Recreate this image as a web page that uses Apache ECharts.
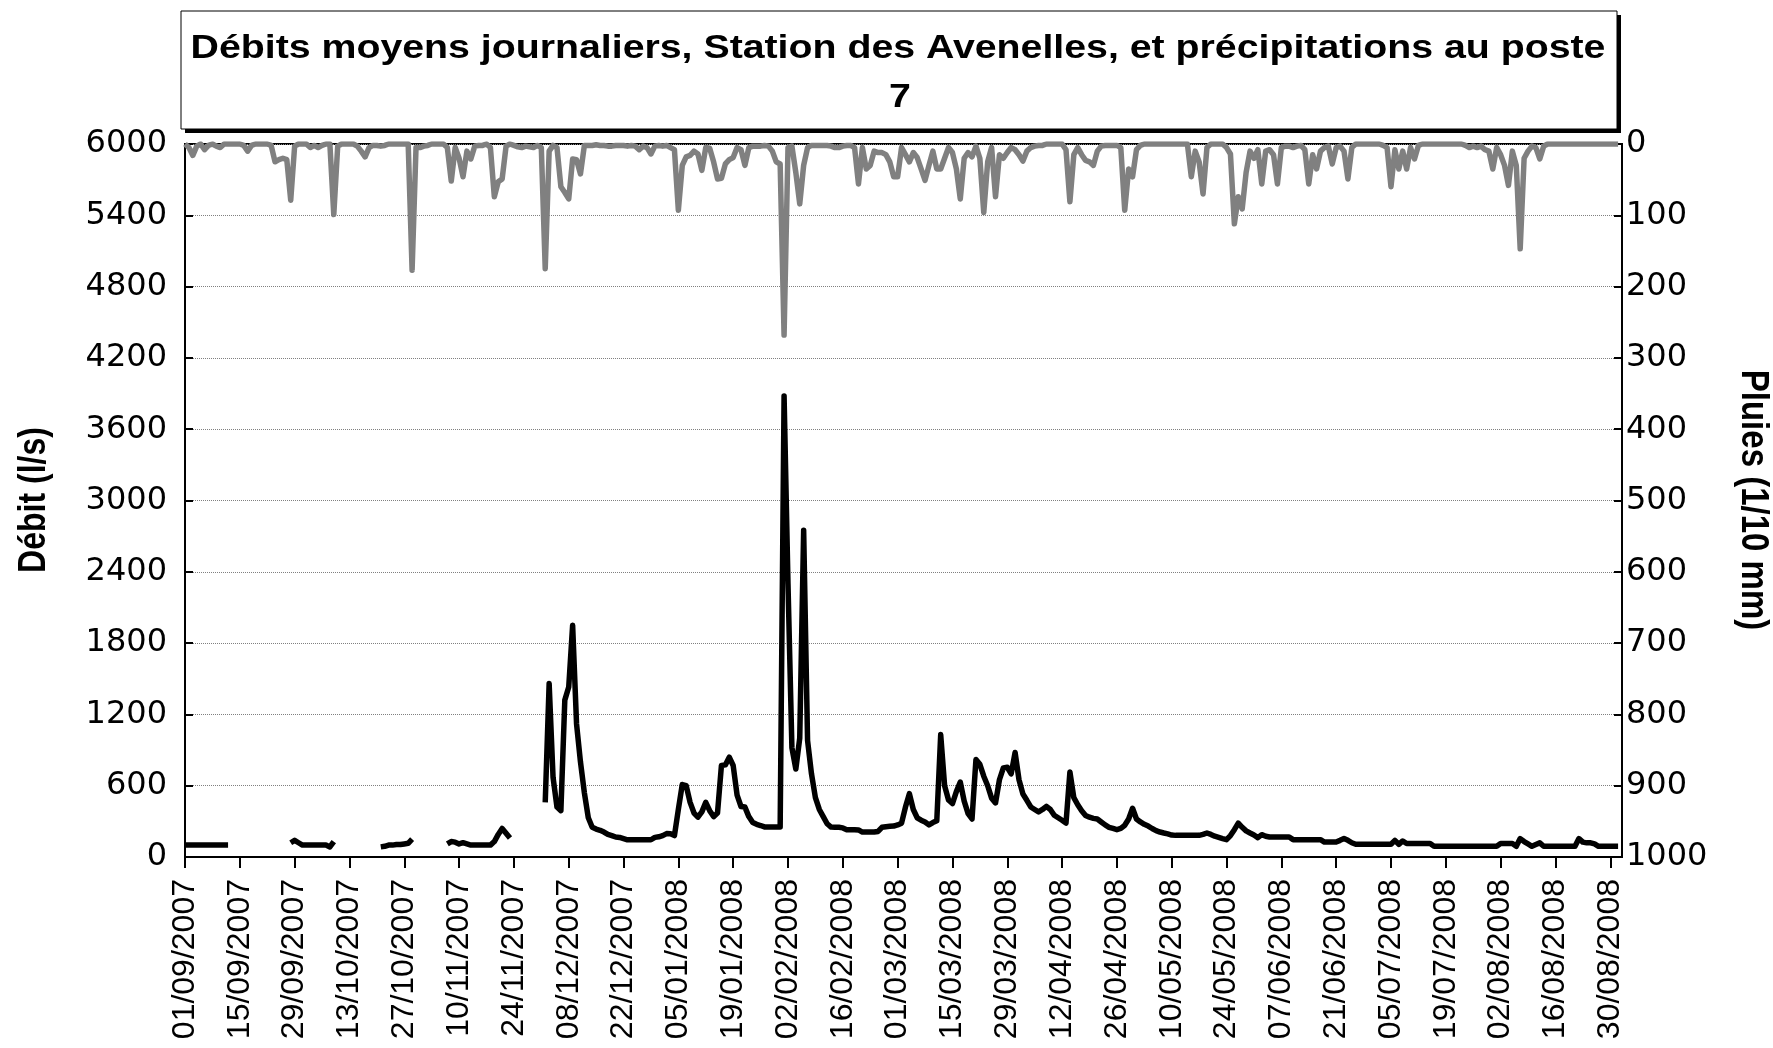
<!DOCTYPE html>
<html>
<head>
<meta charset="utf-8">
<title>Débits moyens journaliers - Avenelles</title>
<script src="https://cdn.jsdelivr.net/npm/echarts@6/dist/echarts.min.js"></script>
<style>
  html, body { margin: 0; padding: 0; background: #fff; }
  #main { width: 1773px; height: 1048px; }
</style>
</head>
<body>
<div id="main"></div>
<script>
// one category per day, from 01/09/2007
const startDate = Date.UTC(2007, 8, 1);
const dayCount = 368;

// tick labels, every 14 days
const tickLabels = [
    '01/09/2007', '15/09/2007', '29/09/2007', '13/10/2007', '27/10/2007', '10/11/2007',
    '24/11/2007', '08/12/2007', '22/12/2007', '05/01/2008', '19/01/2008', '02/02/2008',
    '16/02/2008', '01/03/2008', '15/03/2008', '29/03/2008', '12/04/2008', '26/04/2008',
    '10/05/2008', '24/05/2008', '07/06/2008', '21/06/2008', '05/07/2008', '19/07/2008',
    '02/08/2008', '16/08/2008', '30/08/2008'
];

// daily mean discharge (l/s), null = missing
const debit = [
    100, 100, 100, 100, 100, 100, 100, 100, 100, 100,
    100, 100, null, null, null, null, null, null, null, null,
    null, null, null, null, null, null, null, 120, 140, 120,
    100, 100, 100, 100, 100, 100, 100, 85, 130, null,
    null, null, null, null, null, null, null, null, null, null,
    85, 90, 100, 100, 105, 105, 110, 115, 150, null,
    null, null, null, null, null, null, null, 110, 130, 125,
    110, 120, 110, 100, 100, 100, 100, 100, 100, 130,
    190, 240, 200, 160, null, null, null, null, null, null,
    null, null, 460, 1460, 670, 420, 390, 1320, 1430, 1950,
    1120, 800, 540, 330, 250, 235, 225, 210, 190, 180,
    168, 165, 155, 145, 145, 145, 145, 145, 145, 145,
    165, 170, 180, 197, 195, 180, 400, 610, 600, 460,
    370, 335, 380, 460, 390, 340, 370, 770, 775, 840,
    770, 520, 425, 420, 340, 290, 275, 265, 253, 253,
    253, 253, 253, 3880, 2300, 920, 740, 1000, 2750, 980,
    700, 500, 400, 340, 280, 252, 250, 250, 245, 230,
    230, 230, 228, 210, 210, 210, 210, 215, 250, 255,
    258, 260, 270, 285, 420, 533, 400, 330, 310, 295,
    270, 290, 305, 1030, 600, 480, 450, 550, 630, 470,
    365, 320, 820, 780, 680, 600, 495, 455, 650, 750,
    755, 700, 880, 650, 530, 477, 421, 400, 380, 400,
    426, 400, 351, 330, 309, 285, 715, 500, 440, 390,
    350, 335, 325, 320, 295, 270, 250, 240, 230, 240,
    267, 320, 410, 320, 295, 275, 260, 240, 222, 210,
    202, 195, 185, 182, 182, 182, 182, 182, 182, 182,
    190, 202, 190, 175, 165, 155, 146, 180, 230, 285,
    250, 220, 202, 185, 163, 188, 175, 168, 168, 168,
    168, 168, 168, 146, 146, 146, 146, 146, 146, 146,
    146, 126, 126, 126, 126, 140, 155, 140, 120, 107,
    107, 107, 107, 107, 107, 107, 107, 107, 107, 140,
    107, 135, 113, 113, 113, 113, 113, 113, 113, 90,
    90, 90, 90, 90, 90, 90, 90, 90, 90, 90,
    90, 90, 90, 90, 90, 90, 113, 113, 113, 113,
    90, 155, 130, 110, 90, 105, 119, 90, 90, 90,
    90, 90, 90, 90, 90, 90, 155, 125, 119, 119,
    110, 90, 90, 90, 90, 90, 90, null
];

// daily rainfall (1/10 mm)
const pluie = [
    0, 5, 16, 3, 0, 8, 2, 0, 3, 5,
    0, 0, 0, 0, 0, 2, 10, 2, 0, 0,
    0, 0, 2, 25, 22, 20, 22, 79, 3, 0,
    0, 0, 5, 2, 5, 2, 0, 0, 99, 3,
    0, 0, 0, 0, 3, 10, 18, 5, 2, 2,
    3, 2, 0, 0, 0, 0, 0, 0, 177, 5,
    5, 3, 2, 0, 0, 0, 0, 5, 52, 5,
    20, 46, 10, 21, 3, 2, 2, 0, 5, 74,
    53, 49, 3, 0, 2, 4, 5, 3, 4, 5,
    2, 5, 175, 10, 2, 5, 60, 68, 77, 21,
    22, 42, 2, 2, 2, 1, 2, 2, 3, 3,
    2, 2, 2, 3, 2, 3, 8, 3, 5, 14,
    3, 2, 3, 2, 5, 8, 93, 30, 18, 16,
    10, 14, 37, 5, 6, 25, 49, 48, 28, 22,
    19, 5, 8, 30, 5, 3, 3, 3, 2, 3,
    10, 25, 28, 268, 5, 3, 40, 84, 30, 5,
    2, 2, 2, 2, 2, 3, 5, 5, 3, 2,
    2, 5, 56, 5, 35, 30, 10, 12, 12, 15,
    25, 46, 46, 5, 15, 25, 12, 19, 35, 51,
    30, 10, 35, 35, 20, 5, 12, 35, 77, 20,
    12, 18, 3, 20, 96, 25, 5, 74, 15, 20,
    12, 5, 8, 15, 24, 10, 5, 3, 2, 2,
    0, 0, 0, 0, 0, 8, 81, 15, 5, 15,
    23, 25, 30, 10, 3, 2, 2, 2, 2, 5,
    93, 35, 46, 8, 2, 0, 0, 0, 0, 0,
    0, 0, 0, 0, 0, 0, 0, 46, 10, 25,
    70, 5, 0, 0, 0, 0, 5, 14, 112, 74,
    91, 40, 10, 20, 8, 56, 10, 8, 15, 56,
    5, 3, 3, 5, 3, 2, 8, 56, 15, 35,
    10, 5, 3, 28, 5, 3, 10, 49, 5, 0,
    0, 0, 0, 0, 0, 0, 2, 5, 60, 8,
    35, 10, 35, 5, 21, 2, 0, 0, 0, 0,
    0, 0, 0, 0, 0, 0, 0, 2, 5, 3,
    5, 3, 8, 10, 35, 5, 15, 30, 58, 10,
    30, 147, 20, 10, 3, 5, 21, 3, 0, 0,
    0, 0, 0, 0, 0, 0, 0, 0, 0, 0,
    0, 0, 0, 0, 0, 0, 0, null
];

const pad = n => (n < 10 ? '0' : '') + n;
const days = [];
for (let i = 0; i < dayCount; i++) {
    const d = new Date(startDate + i * 86400000);
    days.push(pad(d.getUTCDate()) + '/' + pad(d.getUTCMonth() + 1) + '/' + d.getUTCFullYear());
}

const FONT = '"Liberation Sans", Arial, sans-serif';
const NUM_FONT = '"DejaVu Sans", "Liberation Sans", sans-serif';
// the original picture is a little stretched sideways
const STRETCH = 1.19;

const chart = echarts.init(document.getElementById('main'));

const option = {
    animation: false,
    backgroundColor: '#fff',
    textStyle: { fontFamily: FONT, color: '#000' },
    grid: {
        left: 185, right: 151, top: 144, bottom: 191,
        show: true, borderColor: '#000', borderWidth: 2
    },
    graphic: [
        // title box with its black drop shadow
        {
            type: 'rect', z: 10,
            shape: { x: 185, y: 15, width: 1436, height: 118 },
            style: { fill: '#000' }
        },
        {
            type: 'rect', z: 10,
            shape: { x: 181, y: 11, width: 1436, height: 118 },
            style: { fill: '#fff', stroke: '#000', lineWidth: 1 }
        },
        {
            type: 'text', x: 898, y: 49, z: 11, scaleX: STRETCH,
            style: {
                text: 'Débits moyens journaliers, Station des Avenelles, et précipitations au poste',
                font: 'bold 33px ' + FONT, fill: '#000',
                textAlign: 'center', textVerticalAlign: 'middle'
            }
        },
        {
            type: 'text', x: 900, y: 98, z: 11, scaleX: STRETCH,
            style: {
                text: '7', font: 'bold 33px ' + FONT, fill: '#000',
                textAlign: 'center', textVerticalAlign: 'middle'
            }
        },
        {
            type: 'text', x: 34, y: 500, rotation: Math.PI / 2, scaleY: STRETCH, z: 11,
            style: {
                text: 'Débit (l/s)', font: 'bold 32px ' + FONT, fill: '#000',
                textAlign: 'center', textVerticalAlign: 'middle'
            }
        },
        {
            type: 'text', x: 1753, y: 500, rotation: -Math.PI / 2, scaleY: STRETCH, z: 11,
            style: {
                text: 'Pluies (1/10 mm)', font: 'bold 33px ' + FONT, fill: '#000',
                textAlign: 'center', textVerticalAlign: 'middle'
            }
        }
    ],
    xAxis: {
        type: 'category',
        data: days,
        boundaryGap: false,
        axisLine: { lineStyle: { color: '#000', width: 2 } },
        axisTick: {
            interval: 13, length: 11, alignWithLabel: true,
            lineStyle: { color: '#000', width: 2 }
        },
        axisLabel: {
            interval: 13, rotate: 90, margin: 22,
            fontSize: 32, color: '#000', fontFamily: FONT,
            formatter: v => (tickLabels.indexOf(v) >= 0 ? v : '')
        },
        splitLine: { show: false }
    },
    yAxis: [
        {
            type: 'value', min: 0, max: 6000, interval: 600,
            axisLine: { show: true, lineStyle: { color: '#000', width: 2 } },
            axisTick: { show: true, inside: true, length: 8, lineStyle: { color: '#000', width: 2 } },
            axisLabel: {
                fontSize: 32, color: '#000', margin: 18, fontFamily: NUM_FONT,
                formatter: v => String(v)
            },
            splitLine: { lineStyle: { color: '#808080', width: 1, type: 'dotted' } }
        },
        {
            type: 'value', min: 0, max: 1000, interval: 100, inverse: true, position: 'right',
            axisLine: { show: true, lineStyle: { color: '#000', width: 2 } },
            axisTick: { show: true, inside: true, length: 8, lineStyle: { color: '#000', width: 2 } },
            axisLabel: {
                fontSize: 32, color: '#000', margin: 4, fontFamily: NUM_FONT,
                formatter: v => String(v)
            },
            splitLine: { show: false }
        }
    ],
    series: [
        {
            name: 'Débit',
            type: 'line',
            data: debit,
            yAxisIndex: 0,
            showSymbol: false,
            connectNulls: false,
            lineStyle: { color: '#000', width: 5.5, join: 'round' },
            z: 3
        },
        {
            name: 'Pluie',
            type: 'line',
            data: pluie,
            yAxisIndex: 1,
            showSymbol: false,
            lineStyle: { color: '#808080', width: 5.5, join: 'round' },
            z: 4
        }
    ]
};

chart.setOption(option);
</script>
</body>
</html>
